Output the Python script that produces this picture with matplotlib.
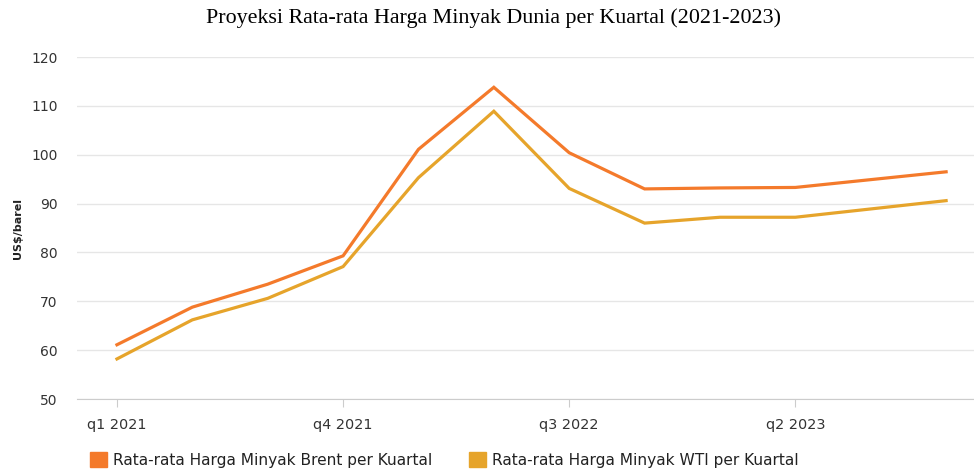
import matplotlib.pyplot as plt
from matplotlib.patches import Patch

quarters = ['q1 2021', 'q2 2021', 'q3 2021', 'q4 2021',
            'q1 2022', 'q2 2022', 'q3 2022', 'q4 2022',
            'q1 2023', 'q2 2023', 'q3 2023', 'q4 2023']
brent = [61.1, 68.8, 73.5, 79.3, 101.1, 113.8, 100.4, 93.0, 93.2, 93.3, 94.9, 96.5]
wti = [58.2, 66.2, 70.6, 77.1, 95.3, 108.9, 93.1, 86.0, 87.2, 87.2, 88.9, 90.6]

brent_name = 'Rata-rata Harga Minyak Brent per Kuartal'
wti_name = 'Rata-rata Harga Minyak WTI per Kuartal'
brent_color = '#F47A2B'
wti_color = '#E6A42B'

W, H = 974, 469
fig = plt.figure(figsize=(W / 100, H / 100), dpi=100)
ax = fig.add_axes([77 / W, 1 - 399 / H, 1 - 77 / W, (399 - 57) / H])

x = list(range(len(quarters)))
ax.plot(x, brent, color=brent_color, lw=2.3, solid_joinstyle='miter')
ax.plot(x, wti, color=wti_color, lw=2.3, solid_joinstyle='miter')

ax.set_xlim(-0.53, 11.37)
ax.set_ylim(50, 120)
ax.set_yticks(range(50, 121, 10))
ax.set_xticks(x[::3])
ax.set_xticklabels(quarters[::3])

ax.grid(axis='y', color='#E6E6E6', lw=1)
ax.set_axisbelow(True)
for s in ['top', 'right', 'left']:
    ax.spines[s].set_visible(False)
ax.spines['bottom'].set_color('#CCCCCC')
ax.tick_params(axis='y', length=0, pad=14, labelsize=10, labelcolor='#333333')
ax.tick_params(axis='x', length=6, color='#CCCCCC', pad=8, labelsize=10.4, labelcolor='#333333')
ax.set_ylabel('US$/barel', fontsize=8, fontweight='bold', labelpad=5.5, color='#222222')

fig.suptitle('Proyeksi Rata-rata Harga Minyak Dunia per Kuartal (2021-2023)',
             x=494 / W, y=1 - 18 / H, va='center',
             family='Liberation Serif', fontsize=15.8)

handles = [Patch(color=brent_color, label=brent_name),
           Patch(color=wti_color, label=wti_name)]
fig.legend(handles=handles, loc='center left', bbox_to_anchor=(90 / W, 9 / H),
           ncol=2, frameon=False, fontsize=11.1, handlelength=1.1, handleheight=1.1,
           handletextpad=0.4, columnspacing=2.4, borderpad=0, borderaxespad=0,
           labelcolor='#222222')

fig.savefig('out.png', dpi=100)
